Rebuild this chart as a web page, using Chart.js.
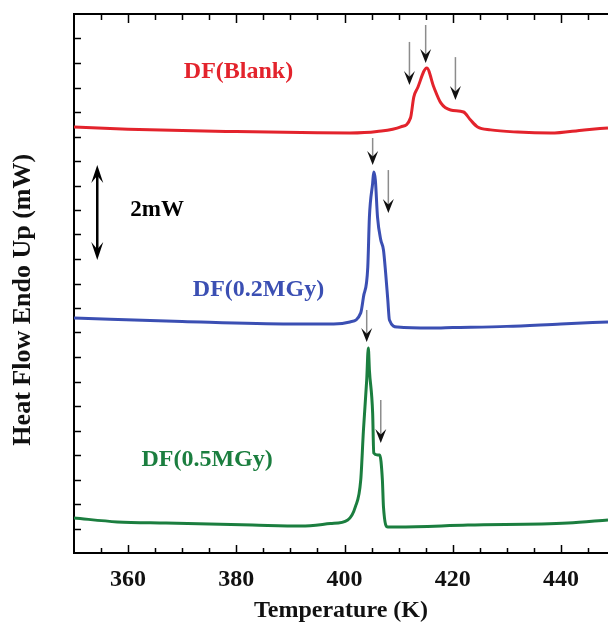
<!DOCTYPE html>
<html>
<head>
<meta charset="utf-8">
<script src="https://cdn.jsdelivr.net/npm/chart.js@4/dist/chart.umd.min.js"></script>
<style>
  html, body { margin: 0; padding: 0; background: #fff; }
  #wrap { position: relative; width: 608px; height: 626px; }
</style>
</head>
<body>
<div id="wrap"><canvas id="dscChart"></canvas></div>
<script>
// temperatures (K) and heat flow (axis tick units, 1 unit = 0.5 mW, offset curves)
const blankT = [350, 360, 380, 395, 401, 406, 410.4, 412.2, 412.8, 413.5, 415.2, 416.5, 417.8, 419.6, 422.0, 423.3, 424.6, 427.0, 432.0, 438.1, 444.3, 448.7];
const blankY = [17.39, 17.3, 17.2, 17.15, 17.14, 17.2, 17.39, 17.76, 18.61, 18.98, 19.8, 19.02, 18.37, 18.08, 18.0, 17.67, 17.39, 17.27, 17.18, 17.14, 17.27, 17.35];

const mgy02T = [350, 370, 390, 398, 401, 403, 403.5, 404.3, 404.6, 405.2, 405.4, 405.7, 406.1, 406.7, 407.2, 407.6, 408.0, 408.3, 409.8, 416, 420, 430, 440, 448.7];
const mgy02Y = [9.59, 9.45, 9.35, 9.35, 9.43, 9.8, 10.45, 11.67, 13.71, 15.1, 15.55, 15.22, 13.71, 12.78, 12.37, 11.43, 10.33, 9.51, 9.22, 9.18, 9.2, 9.25, 9.35, 9.43];

const mgy05T = [350, 358, 367, 383, 392, 397.4, 400.6, 402.0, 403.0, 403.5, 404.1, 404.4, 404.6, 405.2, 405.4, 406.1, 406.5, 407.0, 407.2, 408.0, 409.8, 422.8, 441.3, 448.7];
const mgy05Y = [1.43, 1.27, 1.22, 1.14, 1.10, 1.2, 1.35, 1.88, 2.98, 5.02, 7.06, 8.37, 7.47, 5.71, 4.08, 4.0, 4.0, 2.98, 1.88, 1.06, 1.06, 1.14, 1.22, 1.35];

const seriesNames = ['DF(Blank)', 'DF(0.2MGy)', 'DF(0.5MGy)'];
const seriesColors = ['#e3232c', '#3b4fb3', '#1b7e3f'];
const labelPos = [[380.4, 19.63], [384.1, 10.73], [374.6, 3.8]];

const tickLabels = [360, 380, 400, 420, 440];

// peak markers: [T, tail, tip]
const peakArrows = [
  [412.0, 20.86, 19.1], [415.0, 21.55, 20.0], [420.5, 20.24, 18.49],
  [405.2, 16.94, 15.84], [408.1, 15.63, 13.88],
  [404.1, 9.92, 8.61], [406.7, 6.24, 4.49]
];
const scaleBar = { t: 354.3, top: 15.84, bottom: 11.96, text: '2mW', textT: 360.4, textY: 14.0 };

const serif = '"Liberation Serif", "Times New Roman", serif';

const toPts = (xs, ys) => xs.map((x, i) => ({ x: x, y: ys[i] }));

function arrowHead(ctx, x, y, dir, w, h) {
  // dir = 1 points down, -1 points up
  ctx.beginPath();
  ctx.moveTo(x, y);
  ctx.lineTo(x - w / 2, y - dir * h);
  ctx.lineTo(x, y - dir * h * 0.6);
  ctx.lineTo(x + w / 2, y - dir * h);
  ctx.closePath();
  ctx.fill();
}

const decor = {
  id: 'decor',
  afterDraw(chart) {
    const { ctx, chartArea: a, scales: { x, y } } = chart;
    ctx.save();
    ctx.strokeStyle = '#000';
    ctx.lineWidth = 2;
    // top frame line
    ctx.beginPath();
    ctx.moveTo(a.left, a.top);
    ctx.lineTo(a.right + 2, a.top);
    ctx.stroke();
    // x ticks, inward, bottom and top
    ctx.lineWidth = 1.5;
    for (let t = 355; t <= 445; t += 5) {
      const px = Math.round(x.getPixelForValue(t)) + 0.5;
      const len = t % 20 === 0 ? 8 : 5;
      ctx.beginPath();
      ctx.moveTo(px, a.bottom); ctx.lineTo(px, a.bottom - len);
      ctx.moveTo(px, a.top); ctx.lineTo(px, a.top + len + 1);
      ctx.stroke();
    }
    // y ticks, inward
    for (let v = 1; v < 22; v++) {
      const py = Math.round(y.getPixelForValue(v)) + 0.5;
      ctx.beginPath();
      ctx.moveTo(a.left, py); ctx.lineTo(a.left + 7, py);
      ctx.stroke();
    }
    // peak arrows
    peakArrows.forEach(([t, tail, tip]) => {
      const px = x.getPixelForValue(t);
      const p0 = y.getPixelForValue(tail), p1 = y.getPixelForValue(tip);
      ctx.strokeStyle = '#8c8c8c';
      ctx.lineWidth = 1.5;
      ctx.beginPath();
      ctx.moveTo(px, p0); ctx.lineTo(px, p1 - 6);
      ctx.stroke();
      ctx.fillStyle = '#111';
      arrowHead(ctx, px, p1, 1, 11, 14);
    });
    // 2 mW scale bar
    const bx = x.getPixelForValue(scaleBar.t);
    const by0 = y.getPixelForValue(scaleBar.top), by1 = y.getPixelForValue(scaleBar.bottom);
    ctx.strokeStyle = '#000';
    ctx.fillStyle = '#000';
    ctx.lineWidth = 2.5;
    ctx.beginPath();
    ctx.moveTo(bx, by0 + 8); ctx.lineTo(bx, by1 - 8);
    ctx.stroke();
    arrowHead(ctx, bx, by0, -1, 12, 18);
    arrowHead(ctx, bx, by1, 1, 12, 18);
    ctx.font = 'bold 23px ' + serif;
    ctx.textAlign = 'left';
    ctx.textBaseline = 'middle';
    ctx.fillText(scaleBar.text, x.getPixelForValue(scaleBar.textT), y.getPixelForValue(scaleBar.textY));
    // curve labels
    ctx.font = 'bold 24px ' + serif;
    ctx.textAlign = 'center';
    seriesNames.forEach((name, i) => {
      ctx.fillStyle = seriesColors[i];
      ctx.fillText(name, x.getPixelForValue(labelPos[i][0]), y.getPixelForValue(labelPos[i][1]));
    });
    ctx.restore();
  }
};

const ctx = document.getElementById('dscChart').getContext('2d');
const dscChart = new Chart(ctx, {
  type: 'line',
  data: {
    datasets: [
      { label: seriesNames[0], data: toPts(blankT, blankY) },
      { label: seriesNames[1], data: toPts(mgy02T, mgy02Y) },
      { label: seriesNames[2], data: toPts(mgy05T, mgy05Y) }
    ].map((d, i) => Object.assign(d, {
      borderColor: seriesColors[i],
      borderWidth: 3,
      pointRadius: 0,
      fill: false,
      cubicInterpolationMode: 'monotone'
    }))
  },
  options: {
    responsive: true,
    maintainAspectRatio: false,
    animation: false,
    layout: { padding: { top: 14, right: 0, bottom: 0, left: 0 } },
    plugins: { legend: { display: false }, tooltip: { enabled: false } },
    scales: {
      x: {
        type: 'linear',
        min: 350,
        max: 448.7,
        grid: { display: false, drawTicks: false },
        border: { display: true, color: '#000', width: 2 },
        afterBuildTicks: s => { s.ticks = tickLabels.map(v => ({ value: v })); },
        afterFit: s => { s.height = 73; s.paddingLeft = 0; s.paddingRight = 0; },
        ticks: {
          color: '#111',
          padding: 12,
          maxRotation: 0,
          font: { family: serif, size: 24, weight: 'bold' }
        },
        title: {
          display: true,
          text: 'Temperature (K)',
          color: '#111',
          padding: { top: 0, bottom: 1 },
          font: { family: serif, size: 24, weight: 'bold' }
        }
      },
      y: {
        min: 0,
        max: 22,
        grid: { display: false, drawTicks: false },
        border: { display: true, color: '#000', width: 2 },
        ticks: { display: false },
        afterFit: s => { s.width = 74; },
        title: {
          display: true,
          // trailing spaces nudge the rotated title down to match the original
          text: 'Heat Flow Endo Up (mW)     ',
          color: '#111',
          padding: { top: 8, bottom: 0 },
          font: { family: serif, size: 26, weight: 'bold' }
        }
      }
    }
  },
  plugins: [decor]
});
</script>
</body>
</html>
